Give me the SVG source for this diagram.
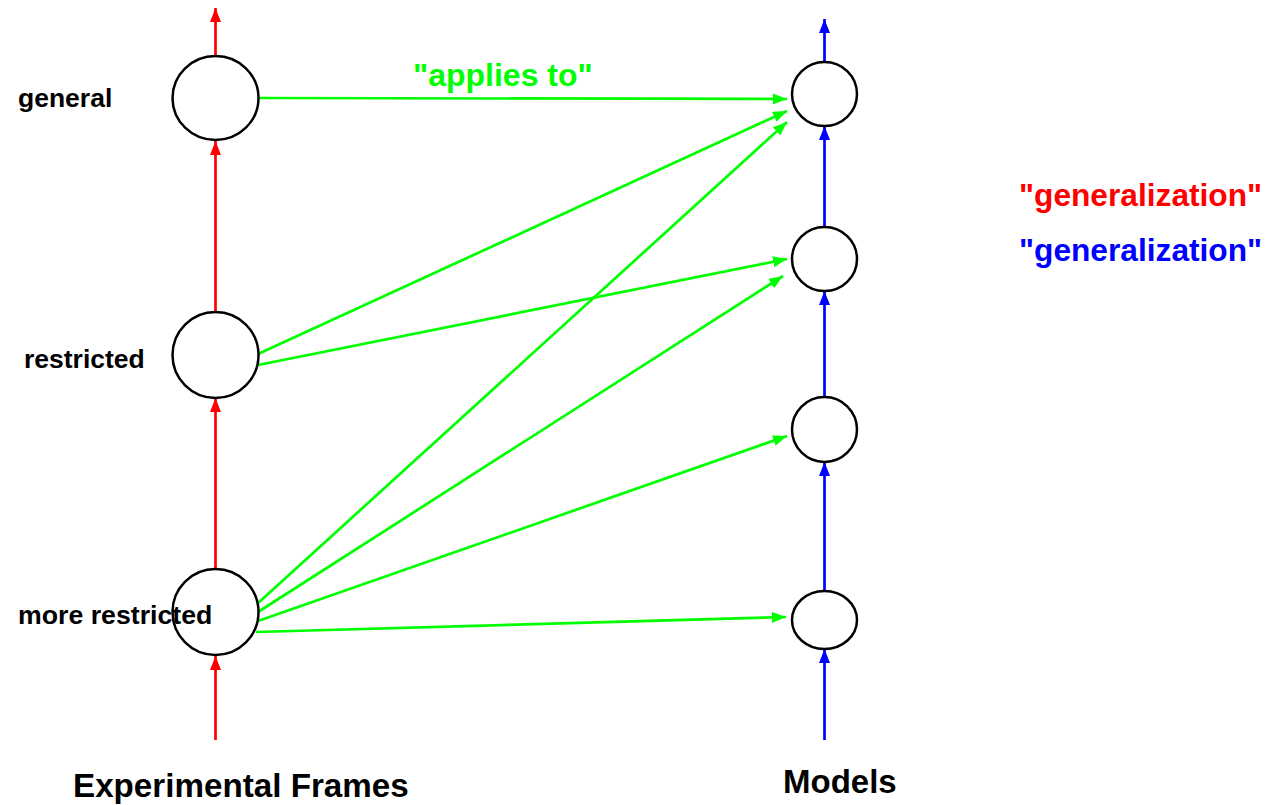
<svg xmlns="http://www.w3.org/2000/svg" width="1271" height="805" viewBox="0 0 1271 805">
<defs>
<marker id="ar" markerWidth="14" markerHeight="11" refX="14" refY="5.5" orient="auto" markerUnits="userSpaceOnUse"><path d="M0,0 L14,5.5 L0,11 z" fill="#ff0000"/></marker>
<marker id="ab" markerWidth="14" markerHeight="11" refX="14" refY="5.5" orient="auto" markerUnits="userSpaceOnUse"><path d="M0,0 L14,5.5 L0,11 z" fill="#0000ff"/></marker>
<marker id="ag" markerWidth="14" markerHeight="11" refX="14" refY="5.5" orient="auto" markerUnits="userSpaceOnUse"><path d="M0,0 L14,5.5 L0,11 z" fill="#00ff00"/></marker>
</defs>
<style>
.n{fill:#fff;stroke:#000;stroke-width:2.5}
.t{font-family:"Liberation Sans",Arial,sans-serif;font-weight:bold}
.r{stroke:#ff0000;stroke-width:2.7;fill:none;marker-end:url(#ar)}
.b{stroke:#0000ff;stroke-width:2.7;fill:none;marker-end:url(#ab)}
.g{stroke:#00ff00;stroke-width:2.7;fill:none;marker-end:url(#ag)}
</style>
<rect width="1271" height="805" fill="#fff"/>
<g id="connectors">
<line class="r" x1="215.5" y1="56" x2="215.5" y2="8"/>
<line class="r" x1="215.5" y1="312" x2="215.5" y2="141"/>
<line class="r" x1="215.5" y1="569" x2="215.5" y2="398"/>
<line class="r" x1="215.5" y1="740" x2="215.5" y2="656"/>
<line class="b" x1="824.5" y1="62" x2="824.5" y2="19"/>
<line class="b" x1="824.5" y1="227" x2="824.5" y2="126"/>
<line class="b" x1="824.5" y1="397" x2="824.5" y2="291"/>
<line class="b" x1="824.5" y1="591" x2="824.5" y2="462"/>
<line class="b" x1="824.5" y1="740" x2="824.5" y2="649"/>
<line class="g" x1="259" y1="98" x2="787" y2="99"/>
<line class="g" x1="258" y1="354" x2="787" y2="111"/>
<line class="g" x1="258" y1="365" x2="787" y2="259"/>
<line class="g" x1="257" y1="604" x2="787" y2="122"/>
<line class="g" x1="258" y1="612" x2="783" y2="276"/>
<line class="g" x1="258" y1="621" x2="787" y2="436"/>
<line class="g" x1="256" y1="632" x2="786" y2="617"/>
</g>
<g id="general"><ellipse class="n" cx="215.5" cy="98" rx="43" ry="42"/><text class="t" x="18" y="107" font-size="26.5">general</text></g>
<g id="restricted"><ellipse class="n" cx="215.5" cy="355" rx="43" ry="43"/><text class="t" x="24" y="368" font-size="26.5">restricted</text></g>
<g id="more-restricted"><ellipse class="n" cx="215.5" cy="612" rx="43" ry="43" style="fill:none"/><text class="t" x="18" y="624" font-size="26.7">more restricted</text></g>
<g id="m1"><ellipse class="n" cx="824.5" cy="94" rx="32.5" ry="32"/></g>
<g id="m2"><ellipse class="n" cx="824.5" cy="259" rx="32.5" ry="32"/></g>
<g id="m3"><ellipse class="n" cx="824.5" cy="429.5" rx="32.5" ry="32.5"/></g>
<g id="m4"><ellipse class="n" cx="824.5" cy="620" rx="32.5" ry="29"/></g>
<g id="labels">
<text class="t" x="413" y="86" font-size="32" fill="#00ff00">"applies to"</text>
<text class="t" x="1019" y="206" font-size="31.7" fill="#ff0000">"generalization"</text>
<text class="t" x="1019" y="261" font-size="31.7" fill="#0000ff">"generalization"</text>
<text class="t" x="73" y="797" font-size="33.2">Experimental Frames</text>
<text class="t" x="783" y="793" font-size="33">Models</text>
</g>
</svg>
